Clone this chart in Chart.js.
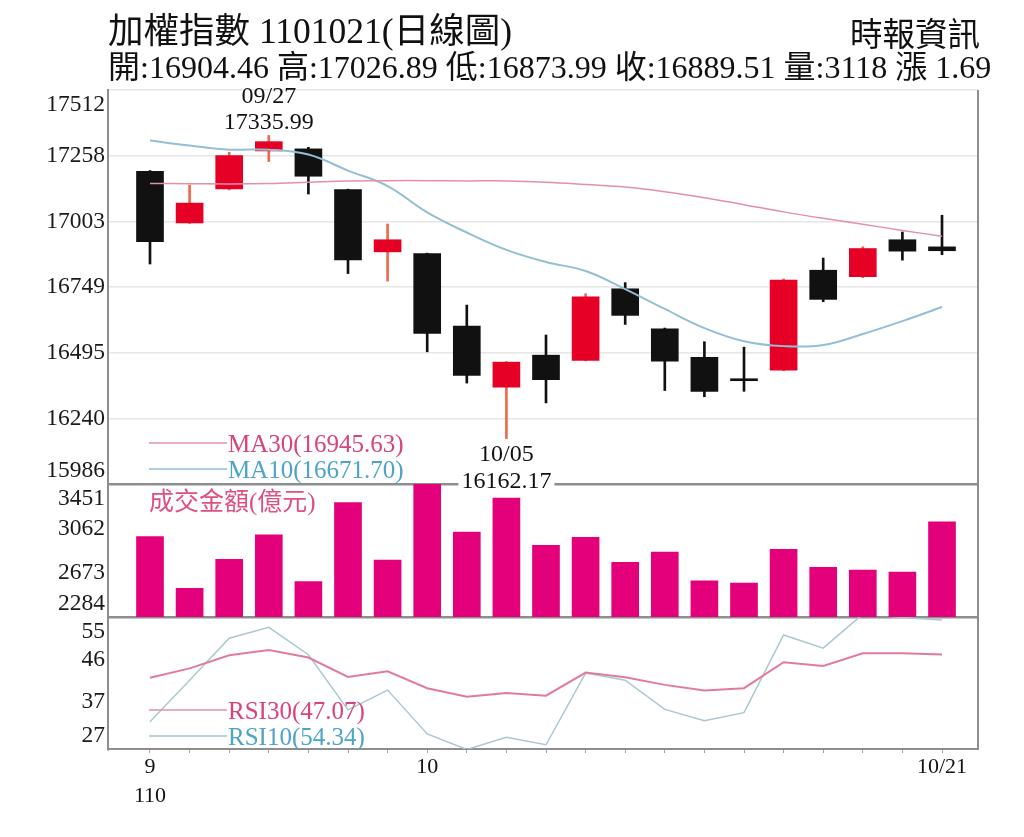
<!DOCTYPE html>
<html lang="zh-TW">
<head>
<meta charset="UTF-8">
<title>加權指數 日線圖</title>
<script src="https://cdn.jsdelivr.net/npm/chart.js"></script>
<style>
  body {
    margin: 0;
    background: #fff;
    width: 1024px;
    height: 837px;
    overflow: hidden;
    position: relative;
    font-family: "Liberation Serif", "Noto Sans CJK TC", serif;
    color: #111;
  }
  #grafico { position: absolute; left: 0; top: 0; }
  .hdr { position: absolute; white-space: nowrap; line-height: 1; }
  #t1 { left: 108px; top: 14px; font-size: 35.5px; }
  #t2 { left: 108px; top: 51px; font-size: 32px; }
  #src { left: 850px; top: 19px; font-size: 32.5px; }
</style>
</head>
<body>
  <canvas id="grafico" width="1024" height="837"></canvas>
  <div class="hdr" id="t1">加權指數 1101021(日線圖)</div>
  <div class="hdr" id="t2"></div>
  <div class="hdr" id="src">時報資訊</div>

<script>
// 日期 (110/09/22 ~ 110/10/21)
const dates = ['09/22','09/23','09/24','09/27','09/28','09/29','09/30','10/01','10/04','10/05',
               '10/06','10/07','10/08','10/12','10/13','10/14','10/15','10/18','10/19','10/20','10/21'];
const opens  = [17197, 16997, 17129, 17276, 17284, 17126, 16885, 16878, 16598, 16361,
                16485, 16465, 16742, 16587, 16477, 16390, 16427, 16814, 16789, 16932, 16904.46];
const highs  = [17200, 17144, 17271, 17335.99, 17290, 17128, 16993, 16880, 16679, 16460,
                16563, 16723, 16766, 16590, 16537, 16516, 16780, 16861, 16905, 16962, 17026.89];
const lows   = [16838, 16995, 17125, 17235, 17109, 16801, 16772, 16498, 16377, 16162.17,
                16300, 16463, 16604, 16348, 16324, 16345, 16425, 16692, 16785, 16853, 16873.99];
const closes = [16925, 17074, 17258, 17312, 17178, 16854, 16932, 16569, 16407, 16458,
                16390, 16711, 16639, 16462, 16345, 16386, 16776, 16701, 16898, 16887.82, 16889.51];
const ma30 = [17150, 17149, 17148, 17150, 17155, 17160, 17161, 17161, 17160, 17160,
              17155, 17146, 17136, 17118, 17095, 17068, 17040, 17015, 16992, 16968, 16945.63];
const ma10 = [17316, 17297, 17281, 17281, 17262, 17200, 17140, 17038, 16960, 16893,
              16846, 16811, 16741, 16664, 16590, 16539, 16520, 16524, 16567, 16617, 16671.70];
// 成交金額(億元)
const volumes = [2989, 2536, 2790, 3006, 2594, 3287, 2784, 3451, 3030, 3328,
                 2913, 2983, 2764, 2854, 2602, 2582, 2878, 2720, 2696, 2679, 3118];
const rsi30 = [42.1, 44.1, 46.9, 48.0, 46.4, 42.3, 43.5, 39.9, 38.1, 38.9,
               38.3, 43.2, 42.2, 40.6, 39.4, 39.9, 45.4, 44.6, 47.3, 47.3, 47.07];
const rsi10 = [32.8, 41.6, 50.5, 52.8, 47.0, 35.3, 39.5, 30.2, 26.9, 29.5,
               27.9, 43.1, 41.6, 35.4, 33.0, 34.7, 51.2, 48.4, 55.6, 54.9, 54.34];

// 刻度
const priceTicks = [17512, 17258, 17003, 16749, 16495, 16240, 15986];
const volTicks = [3451, 3062, 2673, 2284];
const rsiTicks = [55, 46, 37, 27];
const xTickIdx = [0, 7, 20];
const xTickText = [['9', '110'], '10', '10/21'];

const SERIF = '"Liberation Serif", "Noto Sans CJK TC", serif';
const RED = '#e60026';
const BLACK = '#111111';
const FRAME = '#8e8e8e';
const PINK_TXT = '#d9437a';
const BLUE_TXT = '#4ea3c8';

const last = dates.length - 1;
document.getElementById('t2').textContent =
  '開:' + opens[last].toFixed(2) + ' 高:' + highs[last].toFixed(2) +
  ' 低:' + lows[last].toFixed(2) + ' 收:' + closes[last].toFixed(2) +
  ' 量:' + volumes[last] + ' 漲 ' + (closes[last] - closes[last - 1]).toFixed(2);

const idx = dates.map((d, i) => i);
const up = idx.map(i => closes[i] >= opens[i]);

// 標示、刻度文字、圖例
const anotacoes = {
  id: 'anotacoes',
  afterDraw(chart) {
    const { ctx, chartArea: a, scales } = chart;
    const { x, yP, yV, yR } = scales;
    ctx.save();

    ctx.strokeStyle = FRAME;
    ctx.lineWidth = 2;
    ctx.beginPath();
    ctx.moveTo(a.right, a.top);
    ctx.lineTo(a.right, a.bottom);
    ctx.stroke();

    ctx.font = '23.5px ' + SERIF;
    ctx.fillStyle = '#1a1a1a';
    ctx.textAlign = 'right';
    ctx.textBaseline = 'middle';
    [[yP, priceTicks], [yV, volTicks], [yR, rsiTicks]].forEach(([s, ticks]) => {
      ticks.forEach(v => {
        const py = Math.min(Math.max(s.getPixelForValue(v), s.top + 15), s.bottom - 13);
        ctx.fillText(String(v), a.left - 3, py);
      });
    });

    // 圖例
    const legend = (color, txtColor, text, y) => {
      ctx.strokeStyle = color;
      ctx.lineWidth = 1.5;
      ctx.beginPath();
      ctx.moveTo(a.left + 41, y);
      ctx.lineTo(a.left + 119, y);
      ctx.stroke();
      ctx.fillStyle = txtColor;
      ctx.textAlign = 'left';
      ctx.fillText(text, a.left + 120, y + 2);
    };
    ctx.font = '25px ' + SERIF;
    legend('#e58fab', PINK_TXT, 'MA30(' + ma30[last].toFixed(2) + ')', yP.bottom - 41);
    legend('#93bfd4', BLUE_TXT, 'MA10(' + ma10[last].toFixed(2) + ')', yP.bottom - 15);
    legend('#e58fab', PINK_TXT, 'RSI30(' + rsi30[last].toFixed(2) + ')', yR.bottom - 39);
    legend('#a3c4cc', BLUE_TXT, 'RSI10(' + rsi10[last].toFixed(2) + ')', yR.bottom - 13);
    ctx.fillStyle = '#e0507f';
    ctx.fillText('成交金額(億元)', a.left + 41, yV.top + 19);

    // 最高 / 最低
    ctx.font = '24px ' + SERIF;
    ctx.textAlign = 'center';
    ctx.fillStyle = '#111';
    const hi = highs.indexOf(Math.max(...highs));
    const lo = lows.indexOf(Math.min(...lows));
    const hx = x.getPixelForValue(hi), hy = yP.getPixelForValue(highs[hi]);
    ctx.fillText(dates[hi], hx, hy - 39);
    ctx.fillText(highs[hi].toFixed(2), hx, hy - 13);
    const lx = x.getPixelForValue(lo), ly = yP.getPixelForValue(lows[lo]);
    ctx.fillText(dates[lo], lx, ly + 16);
    const txt = lows[lo].toFixed(2);
    const w = ctx.measureText(txt).width;
    ctx.fillStyle = '#fff';
    ctx.fillRect(lx - w / 2 - 3, ly + 32, w + 6, 22);
    ctx.fillStyle = '#111';
    ctx.fillText(txt, lx, ly + 43);
    ctx.restore();
  }
};

const yBase = {
  type: 'linear',
  position: 'left',
  stack: 'paineis',
  offset: false,
  ticks: { display: false },
  border: { display: true, color: FRAME, width: 2 },
  afterFit: s => { s.width = 0; }
};

new Chart(document.getElementById('grafico'), {
  type: 'bar',
  data: {
    datasets: [
      {
        type: 'line', label: 'MA30', yAxisID: 'yP', order: 1,
        data: idx.map(i => ({ x: i, y: ma30[i] })),
        borderColor: '#e58fab', borderWidth: 1.5, pointRadius: 0, tension: 0.4
      },
      {
        type: 'line', label: 'MA10', yAxisID: 'yP', order: 1,
        data: idx.map(i => ({ x: i, y: ma10[i] })),
        borderColor: '#93bfd4', borderWidth: 2, pointRadius: 0, tension: 0.4
      },
      {
        label: 'body', yAxisID: 'yP', order: 2,
        data: idx.map(i => ({ x: i, y: [opens[i], closes[i]] })),
        backgroundColor: idx.map(i => up[i] ? RED : BLACK),
        barThickness: 27, minBarLength: 2
      },
      {
        label: 'wick', yAxisID: 'yP', order: 3,
        data: idx.map(i => ({ x: i, y: [lows[i], highs[i]] })),
        backgroundColor: idx.map(i => up[i] ? '#ee6a4a' : BLACK),
        barThickness: 2
      },
      {
        label: '成交金額', yAxisID: 'yV', order: 2,
        data: idx.map(i => ({ x: i, y: volumes[i] })),
        backgroundColor: '#e4007a',
        barThickness: 27
      },
      {
        type: 'line', label: 'RSI30', yAxisID: 'yR', order: 1,
        data: idx.map(i => ({ x: i, y: rsi30[i] })),
        borderColor: '#e27b9b', borderWidth: 2, pointRadius: 0, tension: 0
      },
      {
        type: 'line', label: 'RSI10', yAxisID: 'yR', order: 1,
        data: idx.map(i => ({ x: i, y: rsi10[i] })),
        borderColor: '#a9c8d0', borderWidth: 1.5, pointRadius: 0, tension: 0
      }
    ]
  },
  options: {
    responsive: false,
    animation: false,
    datasets: { bar: { grouped: false } },
    layout: { padding: { left: 108, top: 90, right: 46, bottom: 28 } },
    plugins: { legend: { display: false }, tooltip: { enabled: false } },
    scales: {
      x: {
        type: 'linear',
        min: -1.0606,
        max: 20.909,
        offset: false,
        grid: { display: true, offset: false, drawOnChartArea: false, tickLength: 4, color: '#a0a0a0' },
        border: { display: true, color: FRAME, width: 2 },
        afterBuildTicks: s => { s.ticks = idx.map(v => ({ value: v })); },
        afterFit: s => { s.height = 60; },
        ticks: {
          autoSkip: false, maxRotation: 0, padding: 0, color: '#111',
          font: { family: SERIF, size: 22, lineHeight: 1.3 },
          callback: v => { const k = xTickIdx.indexOf(v); return k >= 0 ? xTickText[k] : ''; }
        }
      },
      yR: Object.assign({}, yBase, {
        stackWeight: 132, min: rsiTicks[rsiTicks.length - 1], max: rsiTicks[0],
        afterBuildTicks: s => { s.ticks = rsiTicks.map(v => ({ value: v })); },
        grid: {
          drawTicks: false,
          color: c => c.tick && c.tick.value === rsiTicks[0] ? FRAME : 'rgba(0,0,0,0)',
          lineWidth: 2.5
        }
      }),
      yV: Object.assign({}, yBase, {
        stackWeight: 133, min: volTicks[volTicks.length - 1], max: volTicks[0],
        afterBuildTicks: s => { s.ticks = volTicks.map(v => ({ value: v })); },
        grid: { display: false, drawTicks: false }
      }),
      yP: Object.assign({}, yBase, {
        stackWeight: 394, min: priceTicks[priceTicks.length - 1], max: priceTicks[0],
        afterBuildTicks: s => { s.ticks = priceTicks.map(v => ({ value: v })); },
        grid: {
          drawTicks: false,
          color: c => c.tick && c.tick.value === priceTicks[priceTicks.length - 1] ? FRAME : '#e6e6e6',
          lineWidth: c => c.tick && c.tick.value === priceTicks[priceTicks.length - 1] ? 2.5 : 1.5
        }
      })
    }
  },
  plugins: [anotacoes]
});
</script>
</body>
</html>
